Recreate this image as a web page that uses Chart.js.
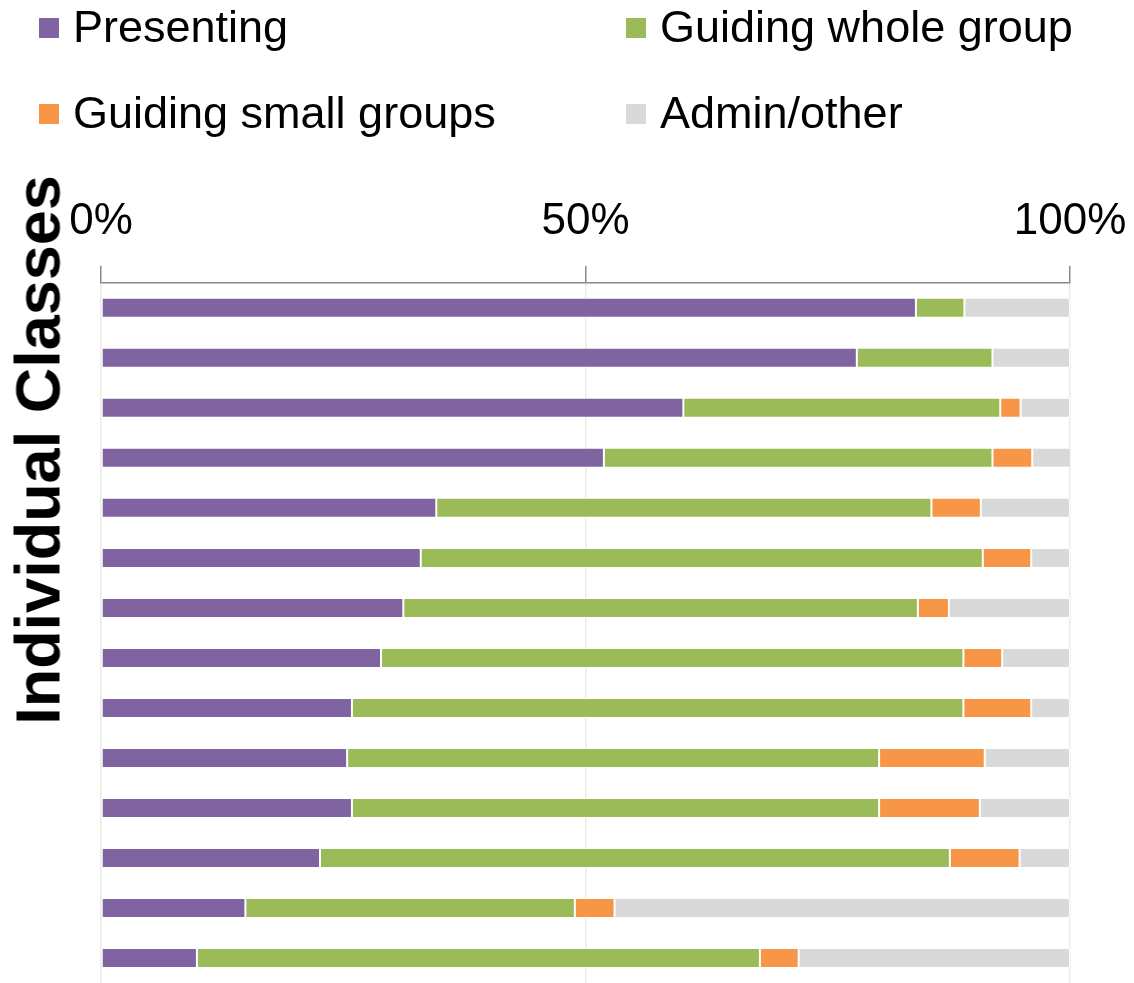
<!DOCTYPE html>
<html>
<head>
<meta charset="utf-8">
<script src="https://cdn.jsdelivr.net/npm/chart.js@4"></script>
<style>
  html, body { margin: 0; padding: 0; background: #fff; }
  #wrap { position: relative; width: 1134px; height: 983px; overflow: hidden; font-family: "Liberation Sans", Arial, sans-serif; }
  #c { position: absolute; left: 0; top: 0; }
  .leg { position: absolute; display: flex; align-items: flex-start; font-size: 45px; line-height: 1; color: #000; white-space: nowrap; }
  .leg .box { width: 20px; height: 20px; margin-top: 14px; margin-right: 14px; }
  #ytitle { position: absolute; left: 38px; top: 450px; width: 620px; text-align: center; font-size: 63px; font-weight: bold; line-height: 1; color: #000;
            transform: translate(-50%, -50%) rotate(-90deg); white-space: nowrap; }
</style>
</head>
<body>
<div id="wrap">
  <canvas id="c" width="1134" height="983"></canvas>
  <div id="ytitle">Individual Classes</div>
</div>
<script>
const classes = ["1","2","3","4","5","6","7","8","9","10","11","12","13","14"];
const seriesNames = ["Presenting", "Guiding whole group", "Guiding small groups", "Admin/other"];
const presenting     = [84.1, 78.0, 60.1, 51.9, 34.6, 33.0, 31.2, 28.9, 25.9, 25.4, 25.9, 22.6, 14.9, 9.9];
const guidingWhole   = [5.0, 14.0, 32.7, 40.1, 51.1, 58.0, 53.1, 60.1, 63.1, 54.9, 54.4, 65.0, 34.0, 58.1];
const guidingSmall   = [0, 0, 2.1, 4.1, 5.1, 5.0, 3.2, 4.0, 7.0, 10.9, 10.4, 7.2, 4.1, 4.0];
const adminOther     = [10.9, 8.0, 5.1, 4.0, 9.2, 4.0, 12.5, 7.0, 4.0, 8.8, 9.3, 5.2, 47.0, 28.0];
const xTicks = [0, 50, 100];
const colors = ["#8064A2", "#9BBB59", "#F79646", "#D9D9D9"];

const values = [presenting, guidingWhole, guidingSmall, adminOther];

// HTML legend
const legPos = [[39, 4], [626, 4], [39, 90], [626, 90]];
const wrap = document.getElementById('wrap');
seriesNames.forEach((n, i) => {
  const d = document.createElement('div');
  d.className = 'leg';
  d.style.left = legPos[i][0] + 'px';
  d.style.top = legPos[i][1] + 'px';
  const b = document.createElement('span');
  b.className = 'box';
  b.style.background = colors[i];
  const t = document.createElement('span');
  t.textContent = n;
  d.appendChild(b); d.appendChild(t);
  wrap.appendChild(d);
});

new Chart(document.getElementById('c'), {
  type: 'bar',
  data: {
    labels: classes,
    datasets: seriesNames.map((n, i) => ({
      label: n,
      data: values[i],
      backgroundColor: colors[i],
      borderColor: '#ffffff',
      borderWidth: 1,
      borderSkipped: false,
      barPercentage: 0.4,
      categoryPercentage: 1.0
    }))
  },
  options: {
    indexAxis: 'y',
    responsive: false,
    animation: false,
    layout: { padding: { left: 101, right: 64, top: 177, bottom: 0 } },
    plugins: { legend: { display: false }, tooltip: { enabled: false } },
    scales: {
      x: {
        position: 'top',
        stacked: true,
        min: 0, max: 100,
        afterBuildTicks: (s) => { s.ticks = xTicks.map(v => ({ value: v })); },
        afterFit: (s) => { s.paddingLeft = 0; s.paddingRight = 0; },
        ticks: {
          callback: (v) => v + '%',
          font: { family: 'Liberation Sans', size: 44 },
          color: '#000',
          padding: 18,
          maxRotation: 0
        },
        grid: { color: '#ECECE2', lineWidth: 1.5, tickLength: 17, tickColor: '#8A8A8A', drawTicks: true },
        border: { color: '#8A8A8A', width: 1.5 }
      },
      y: {
        stacked: true,
        display: false
      }
    }
  }
});
</script>
</body>
</html>
